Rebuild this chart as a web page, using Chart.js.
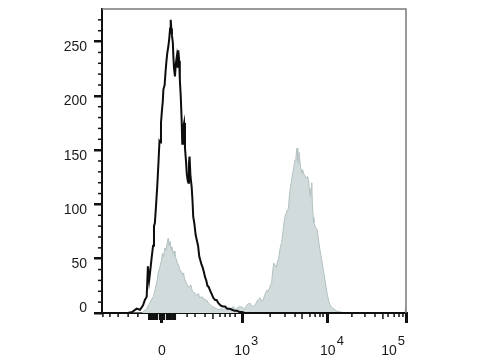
<!DOCTYPE html>
<html>
<head>
<meta charset="utf-8">
<script src="https://cdn.jsdelivr.net/npm/chart.js@4.4.0/dist/chart.umd.min.js"></script>
<style>
html, body { margin: 0; padding: 0; background: #fff; }
#wrap { width: 480px; height: 360px; position: relative; }
</style>
</head>
<body>
<div id="wrap"><canvas id="chart"></canvas></div>
<script>
// histogram channels (display scale 0-1000) and event counts
var blackChannels = [0,85,100,114,125,135,141,147,151,155,158,163,168,171,174,178,182,186,189,191,194,197,200,202,206,209,212,215,218,221,224,226,228,230,233,235,237,240,243,246,249,251,254,256,259,262,264,266,268,270,273,276,279,282,284,286,288,291,295,298,300,304,308,312,316,320,323,327,331,335,339,343,347,351,355,360,366,372,377,383,390,397,405,412,420,428,436,444,452,460,470,1000];
var blackCounts   = [0,0,1,4,3,7,12,15,43,30,37,50,62,80,83,100,118,140,158,157,175,186,195,206,210,222,232,240,245,252,262,270,262,256,249,235,225,218,230,236,226,242,232,215,200,178,156,168,172,175,152,141,128,122,120,138,144,126,116,102,89,82,72,67,62,52,49,45,42,38,33,30,25,24,21,18,14,12,12,9,7,6,6,4,4,3,2,2,1,1,0,0];

var greyChannels = [0,130,140,147,155,162,169,175,180,185,190,195,199,203,207,211,215,218,221,224,227,230,234,237,240,244,248,252,256,261,265,268,272,277,282,287,292,297,302,307,311,317,322,328,333,338,344,350,355,362,370,377,385,393,400,408,416,424,432,440,447,454,462,470,478,487,495,503,510,516,520,525,530,536,542,547,552,558,562,565,569,573,577,581,586,591,595,599,602,606,610,613,617,621,624,628,632,635,638,640,642,644,646,648,650,653,657,660,664,668,672,676,679,682,684,686,688,690,692,695,697,701,705,708,712,717,722,728,732,737,741,745,749,754,761,770,783,800,990,997,1000];
var greyCounts   = [0,0,2,4,8,12,15,22,28,37,42,48,55,52,60,58,66,69,62,66,58,61,55,57,52,50,46,44,40,38,35,37,31,28,25,24,26,20,19,18,16,18,14,15,14,12,12,9,8,6,5,4,3,4,3,5,3,4,6,3,5,6,5,4,8,9,6,7,11,13,14,11,12,17,21,20,24,28,40,46,44,42,47,50,60,65,74,84,89,92,95,96,110,118,123,130,136,141,143,150,152,140,138,148,142,135,129,132,128,126,124,126,123,115,110,107,114,120,100,88,83,80,78,77,68,58,50,40,33,24,17,12,8,6,4,2,1,0,0,1,6];

// axis ticks
var yMajorTicks = [0, 50, 100, 150, 200, 250];
var yMinorTicks = [10,20,30,40,60,70,80,90,110,120,130,140,160,170,180,190,210,220,230,240,260,270];
var xMajorTicks = [197, 461, 743, 1000];
var xMajorLabels = ['0', '10', '10', '10'];
var xMajorExponents = ['', '3', '4', '5'];
var xMidTicks = [365, 658, 924];
var xMinorTicks = [3,26,53,86,118,280,306,339,388,405,421,438,553,602,635,684,701,717,727,822,865,898,941,961,977,990];
var xZeroTicks = [155,161,168,174,181,191,204,214,220,227,234,240];

var FONT = '"Liberation Sans", Arial, sans-serif';

var axisExtras = {
    id: 'axisExtras',
    afterDraw: function(chart) {
        var ctx = chart.ctx;
        var xs = chart.scales.x;
        var ys = chart.scales.y;
        var area = chart.chartArea;
        ctx.save();

        // top and right frame
        ctx.strokeStyle = '#7a7a7a';
        ctx.lineWidth = 1.5;
        ctx.beginPath();
        ctx.moveTo(area.left, area.top);
        ctx.lineTo(area.right, area.top);
        ctx.lineTo(area.right, area.bottom);
        ctx.stroke();

        ctx.strokeStyle = '#111';
        function xTick(v, len, w) {
            var px = xs.getPixelForValue(v);
            ctx.lineWidth = w;
            ctx.beginPath();
            ctx.moveTo(px, area.bottom);
            ctx.lineTo(px, area.bottom + len);
            ctx.stroke();
        }
        function yTick(v, len, w) {
            var py = ys.getPixelForValue(v);
            ctx.lineWidth = w;
            ctx.beginPath();
            ctx.moveTo(area.left, py);
            ctx.lineTo(area.left - len, py);
            ctx.stroke();
        }
        xMinorTicks.forEach(function(v) { xTick(v, 4, 1.5); });
        xMidTicks.forEach(function(v) { xTick(v, 6, 1.5); });
        xZeroTicks.forEach(function(v) { xTick(v, 7, 2.2); });
        yMinorTicks.forEach(function(v) { yTick(v, 4, 1.5); });

        // y labels
        ctx.fillStyle = '#1a1a1a';
        ctx.font = '14px ' + FONT;
        ctx.textAlign = 'right';
        ctx.textBaseline = 'middle';
        yMajorTicks.forEach(function(v) {
            var py = ys.getPixelForValue(v) + (v === 0 ? -5 : 5.5);
            ctx.fillText(String(v), area.left - 15, py);
        });

        // x labels with superscript exponents
        ctx.textAlign = 'left';
        ctx.textBaseline = 'alphabetic';
        xMajorTicks.forEach(function(v, i) {
            var px = xs.getPixelForValue(v);
            ctx.font = '14px ' + FONT;
            var w = ctx.measureText(xMajorLabels[i]).width;
            ctx.font = '13px ' + FONT;
            var s = xMajorExponents[i] ? ctx.measureText(xMajorExponents[i]).width + 1 : 0;
            var x0 = px - w / 2;
            if (i === xMajorTicks.length - 1) x0 = px - w - s - 1;
            ctx.font = '14px ' + FONT;
            ctx.fillText(xMajorLabels[i], x0, area.bottom + 42);
            if (s) {
                ctx.font = '13px ' + FONT;
                ctx.fillText(xMajorExponents[i], x0 + w + 1, area.bottom + 32);
            }
        });
        ctx.restore();
    }
};

function toPoints(xs, ys) {
    return xs.map(function(x, i) { return { x: x, y: ys[i] }; });
}

var ctx = document.getElementById('chart').getContext('2d');
var chart = new Chart(ctx, {
    type: 'line',
    data: {
        datasets: [{
            label: 'stained',
            data: toPoints(blackChannels, blackCounts),
            borderColor: '#0d0d0d',
            borderWidth: 2,
            pointRadius: 0,
            tension: 0,
            fill: false,
            order: 0
        }, {
            label: 'control',
            data: toPoints(greyChannels, greyCounts),
            borderColor: '#b3c0c0',
            backgroundColor: '#d2dbdb',
            borderWidth: 1,
            pointRadius: 0,
            tension: 0,
            fill: 'origin',
            order: 1
        }]
    },
    options: {
        responsive: true,
        maintainAspectRatio: false,
        animation: false,
        layout: { padding: { top: 9, right: 74, bottom: 0, left: 0 } },
        plugins: { legend: { display: false }, tooltip: { enabled: false } },
        scales: {
            x: {
                type: 'linear',
                min: 0,
                max: 1000,
                afterBuildTicks: function(s) { s.ticks = xMajorTicks.map(function(v) { return { value: v }; }); },
                afterFit: function(s) { s.height = 47; },
                ticks: { display: false },
                grid: { drawOnChartArea: false, tickLength: 10, lineWidth: 3, color: '#111' },
                border: { color: '#111', width: 2 }
            },
            y: {
                min: 0,
                max: 280,
                afterBuildTicks: function(s) { s.ticks = yMajorTicks.map(function(v) { return { value: v }; }); },
                afterFit: function(s) { s.width = 102; },
                ticks: { display: false },
                grid: { drawOnChartArea: false, tickLength: 8, lineWidth: 2.5, color: '#111' },
                border: { color: '#111', width: 2 }
            }
        }
    },
    plugins: [axisExtras]
});
</script>
</body>
</html>
